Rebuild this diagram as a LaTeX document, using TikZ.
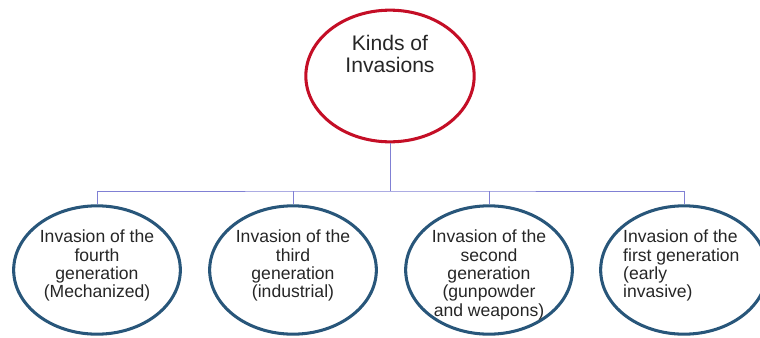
\documentclass[tikz,border=0pt]{standalone}
\usepackage{fontspec}
\setmainfont{Liberation Sans}
\usetikzlibrary{shapes.geometric}
\definecolor{kindred}{RGB}{196,14,38}
\definecolor{genblue}{RGB}{40,86,122}
\definecolor{linkblue}{RGB}{128,128,212}
\tikzset{
  kind/.style={ellipse,draw=kindred,line width=2.6pt,minimum width=5.05cm,minimum height=3.95cm},
  gen/.style={ellipse,draw=genblue,line width=2.6pt,minimum width=5.0cm,minimum height=3.85cm},
  gentext/.style={anchor=north,inner sep=0pt,align=center,text=black!85,font=\fontsize{15}{15.6}\selectfont},
  link/.style={draw=linkblue,line width=0.8pt}
}
\begin{document}
\begin{tikzpicture}[x=0.03cm,y=-0.03cm]
\useasboundingbox (0,0) rectangle (760,337);
\begin{scope}
\clip (0,0) rectangle (760,337);
  \node[kind] (kinds) at (390,76) {};
  \node[inner sep=0pt,align=center,text=black!85,font=\fontsize{18}{19}\selectfont] (kindstext) at (390,54) {Kinds of\\Invasions};
  \node[gen] (g1) at (97,270) {};
  \node[gen] (g2) at (293,270) {};
  \node[gen] (g3) at (489,270) {};
  \node[gen] (g4) at (684,270) {};
  \node[gentext] (g1text) at (97,230) {Invasion of the\\fourth\\generation\\(Mechanized)};
  \node[gentext] (g2text) at (293,230) {Invasion of the\\third\\generation\\(industrial)};
  \node[gentext] (g3text) at (489,230) {Invasion of the\\second\\generation\\(gunpowder\\and weapons)};
  \node[gentext,anchor=north west,align=left] (g4text) at (623,230) {Invasion of the\\first generation\\(early\\invasive)};
  \coordinate (bus) at (390,191);
  \draw[link] (kinds.south) -- (bus);
  \draw[link] (g1.north) |- (bus) -| (g4.north);
  \draw[link] (g2.north) -- (g2.north |- bus);
  \draw[link] (g3.north) -- (g3.north |- bus);
\end{scope}
\end{tikzpicture}
\end{document}
